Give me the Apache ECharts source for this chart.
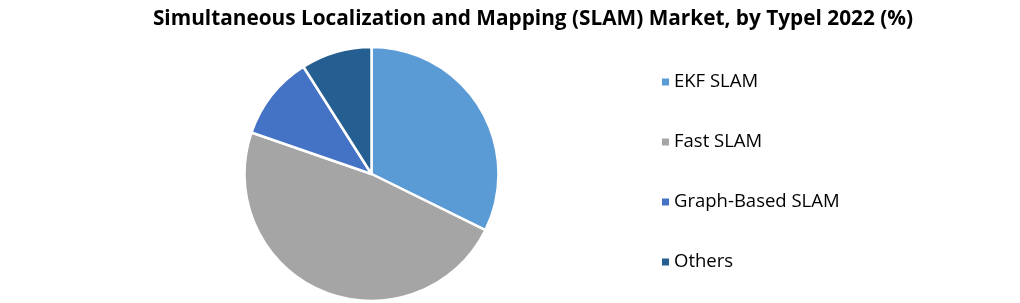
<!DOCTYPE html>
<html><head><meta charset="utf-8">
<script src="https://cdn.jsdelivr.net/npm/echarts@6/dist/echarts.min.js"></script>
<style>html,body{margin:0;padding:0;background:#fff}#c{width:1020px;height:303px}</style>
</head><body><div id="c"></div>
<script>
const categories = ["EKF SLAM", "Fast SLAM", "Graph-Based SLAM", "Others"];
const values = [32.3, 48.0, 10.7, 9.0];
const colors = ["#5B9BD5", "#A5A5A5", "#4472C4", "#255E91"];
const titleText = "Simultaneous Localization and Mapping (SLAM) Market, by Typel 2022 (%)";

const chart = echarts.init(document.getElementById('c'), null, {renderer: 'canvas'});
chart.setOption({
  animation: false,
  color: colors,
  title: {
    text: titleText, left: 528, top: 4, textAlign: 'center',
    textStyle: {fontFamily: 'Open Sans', fontWeight: 'bold', fontSize: 20.8, color: '#000'}
  },
  legend: {
    orient: 'vertical', left: 655, top: 67, itemWidth: 9, itemHeight: 9, itemGap: 40,
    icon: 'rect',
    textStyle: {fontFamily: 'Open Sans', fontSize: 18.5, lineHeight: 20, color: '#000', padding: [0,0,0,-1]},
    data: categories
  },
  series: [{
    type: 'pie', center: [371.5, 174], radius: 127, startAngle: 90, clockwise: true,
    label: {show: false}, labelLine: {show: false},
    itemStyle: {borderColor: '#fff', borderWidth: 2.5},
    emphasis: {disabled: true},
    data: categories.map((n, i) => ({name: n, value: values[i]}))
  }]
});
</script></body></html>
